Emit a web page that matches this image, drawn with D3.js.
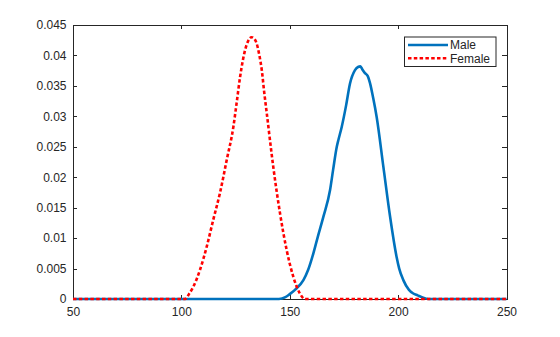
<!DOCTYPE html>
<html lang="en">
  <head>
    <meta charset="utf-8" />
    <title>Height distributions</title>
    <script src="https://d3js.org/d3.v7.min.js"></script>
    <style>
      body {
        margin: 0;
        background: white;
      }
      text {
        font-family: "Liberation Sans", Arial, sans-serif;
        font-size: 12px;
        fill: #262626;
      }
      .axis path,
      .axis line {
        stroke: #262626;
        stroke-width: 1;
        shape-rendering: crispEdges;
      }
      .frame {
        fill: none;
        stroke: #262626;
        shape-rendering: crispEdges;
      }
      .male {
        fill: none;
        stroke: #0072bd;
        stroke-width: 2.6;
      }
      .female {
        fill: none;
        stroke: #ff0000;
        stroke-width: 2.6;
        stroke-dasharray: 3.5, 2.3;
      }
    </style>
  </head>
  <body>
    <svg width="560" height="337"></svg>
    <script>
      // values: [height, density]
      const maleHeight = [50, 145, 148, 150, 152.4, 156.3, 158.5, 160.9, 163, 165.5, 168.6, 170, 171.7, 172.5, 174, 176, 177.8, 180.1, 181.5, 182.6, 183.5, 184.7, 186, 187, 188.5, 190.1, 193.2, 196.3, 199.3, 200.5, 202.4, 205, 207, 209, 211, 214, 250];
      const maleDensity = [0, 0, 0.0003, 0.0008, 0.0015, 0.0031, 0.0048, 0.0075, 0.0103, 0.0135, 0.0179, 0.0212, 0.025, 0.0262, 0.0283, 0.0318, 0.0354, 0.0376, 0.0381, 0.0382, 0.0377, 0.0371, 0.0366, 0.0355, 0.033, 0.0299, 0.0217, 0.0135, 0.0069, 0.005, 0.0031, 0.0015, 0.0009, 0.0006, 0.0003, 0, 0];

      const femaleHeight = [50, 101.7, 103.5, 105.5, 108.6, 111.7, 114.7, 117.8, 120.9, 124, 125.5, 127.1, 129.4, 131, 132.4, 133.5, 134.7, 136, 137.1, 138.2, 139.4, 142.4, 145.5, 148.6, 151.6, 154.7, 157, 250];
      const femaleDensity = [0, 0, 0.0008, 0.002, 0.0048, 0.0086, 0.013, 0.0174, 0.0228, 0.0283, 0.0322, 0.0365, 0.0409, 0.0425, 0.043, 0.0428, 0.042, 0.04, 0.0376, 0.034, 0.0305, 0.0217, 0.0141, 0.008, 0.0037, 0.0009, 0, 0];

      const xTicks = [50, 100, 150, 200, 250];
      const yTicks = [0, 0.005, 0.01, 0.015, 0.02, 0.025, 0.03, 0.035, 0.04, 0.045];
      const seriesNames = ["Male", "Female"];

      const svg = d3.select("svg"),
        margin = { top: 25, right: 53.5, bottom: 38, left: 73 },
        width = svg.attr("width") - margin.left - margin.right,
        height = svg.attr("height") - margin.top - margin.bottom;

      const g = svg
        .append("g")
        .attr("transform", "translate(" + margin.left + "," + margin.top + ")");

      const x = d3.scaleLinear().domain([50, 250]).range([0, width]);
      const y = d3.scaleLinear().domain([0, 0.045]).range([height, 0]);

      const tickLen = 4.3;

      // axes with inward ticks, mirrored on top/right
      g.append("g")
        .attr("class", "axis")
        .attr("transform", "translate(0," + height + ")")
        .call(d3.axisBottom(x).tickValues(xTicks).tickSizeInner(-tickLen).tickSizeOuter(0).tickPadding(8))
        .call((a) => a.select(".domain").remove());

      g.append("g")
        .attr("class", "axis")
        .call(d3.axisTop(x).tickValues(xTicks).tickSizeInner(-tickLen).tickSizeOuter(0).tickFormat(""))
        .call((a) => a.select(".domain").remove());

      g.append("g")
        .attr("class", "axis")
        .call(d3.axisLeft(y).tickValues(yTicks).tickSizeInner(-tickLen).tickSizeOuter(0).tickPadding(6.5).tickFormat((d) => String(+d.toFixed(3))))
        .call((a) => a.select(".domain").remove());

      g.append("g")
        .attr("class", "axis")
        .attr("transform", "translate(" + width + ",0)")
        .call(d3.axisRight(y).tickValues(yTicks).tickSizeInner(-tickLen).tickSizeOuter(0).tickFormat(""))
        .call((a) => a.select(".domain").remove());

      g.selectAll(".axis text").style("font-size", "12px").attr("fill", "#262626");

      g.append("rect")
        .attr("class", "frame")
        .attr("x", 0.5)
        .attr("y", 0.5)
        .attr("width", width)
        .attr("height", height);

      const line = d3
        .line()
        .x((d) => x(d[0]))
        .y((d) => y(d[1]))
        .curve(d3.curveMonotoneX);

      const male = maleHeight.map((h, i) => [h, maleDensity[i]]);
      const female = femaleHeight.map((h, i) => [h, femaleDensity[i]]);

      g.append("path").attr("class", "male").attr("d", line(male));
      g.append("path").attr("class", "female").attr("d", line(female));

      // Legend
      const legend = svg.append("g").attr("transform", "translate(404,36.5)");
      legend
        .append("rect")
        .attr("x", 0.5)
        .attr("y", 0.5)
        .attr("width", 91.5)
        .attr("height", 29.5)
        .attr("fill", "white")
        .attr("stroke", "#262626");

      legend
        .selectAll(".legend-line")
        .data(seriesNames)
        .join("line")
        .attr("class", (d) => d.toLowerCase())
        .attr("x1", 4)
        .attr("x2", 44)
        .attr("y1", (d, i) => 8.5 + i * 13.3)
        .attr("y2", (d, i) => 8.5 + i * 13.3);

      legend
        .selectAll(".legend-text")
        .data(seriesNames)
        .join("text")
        .attr("x", 46)
        .attr("y", (d, i) => 12.8 + i * 13.3)
        .text((d) => d);
    </script>
  </body>
</html>
